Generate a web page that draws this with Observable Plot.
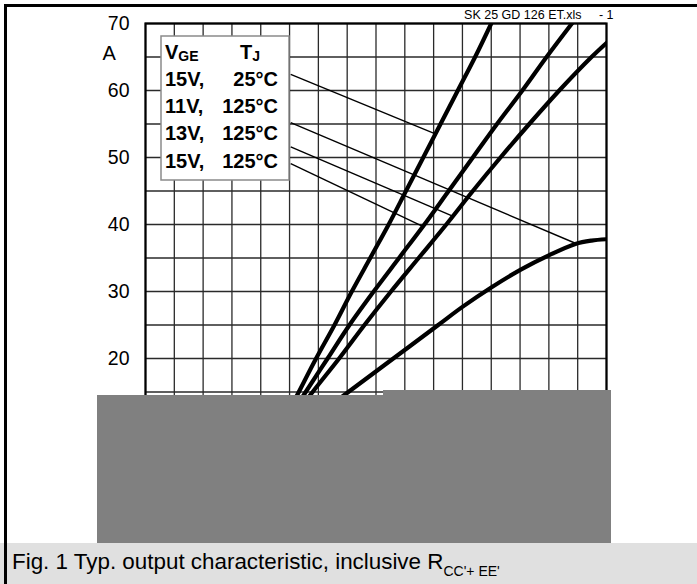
<!DOCTYPE html>
<html>
<head>
<meta charset="utf-8">
<script src="https://cdn.jsdelivr.net/npm/d3@7"></script>
<script src="https://cdn.jsdelivr.net/npm/@observablehq/plot@0.6"></script>
<style>
  body { margin: 0; background: #fff; font-family: "Liberation Sans", Arial, sans-serif; }
  #wrap { position: relative; width: 697px; height: 584px; overflow: hidden; background: #fff; }
  #chart { position: absolute; left: 0; top: 0; }
  #caption { position: absolute; left: 0; top: 543px; width: 697px; height: 41px; background: #e0e0e0;
             font-size: 22.4px; line-height: 22px; color: #000; box-sizing: border-box; padding: 8px 0 0 12px; white-space: nowrap; }
  #caption sub { font-size: 14px; vertical-align: -7px; line-height: 0; }
  .mask { position: absolute; background: #808080; }
  #border { position: absolute; left: 4px; top: 4px; width: 693px; height: 580px; box-sizing: border-box;
            border-top: 3px solid #000; border-left: 3px solid #000; pointer-events: none; }
</style>
</head>
<body>
<div id="wrap">
  <div id="chart"></div>
  <div class="mask" style="left:97px;top:395px;width:514px;height:148px;"></div>
  <div class="mask" style="left:383px;top:390px;width:228px;height:6px;"></div>
  <div id="caption">Fig. 1 Typ. output characteristic, inclusive R<sub>CC'+ EE'</sub></div>
  <div id="border"></div>
</div>
<script>
// ---- axis / grid definitions ----
const xGrid = d3.range(0, 4.0001, 0.25);   // V_CE grid every 0.25 V
const yGrid = d3.range(0, 70.001, 5);      // I_C grid every 5 A
const yTicks = [0, 10, 20, 30, 40, 50, 60, 70];

// ---- series (V_CE in V, I_C in A) ----
const series = ["15V, 25°C", "15V, 125°C", "13V, 125°C", "11V, 125°C"];

const ic_15V_25C  = [12, 15, 20, 25, 30, 35, 40, 45, 50, 55, 60, 65, 70];
const vce_15V_25C = [1.24, 1.33, 1.48, 1.64, 1.79, 1.95, 2.11, 2.26, 2.41, 2.56, 2.71, 2.86, 3.00];

const ic_15V_125C  = [12, 15, 20, 25, 30, 35, 40, 45, 50, 55, 60, 65, 70];
const vce_15V_125C = [1.28, 1.39, 1.58, 1.77, 1.98, 2.20, 2.42, 2.63, 2.84, 3.05, 3.27, 3.48, 3.70];

const ic_13V_125C  = [12, 15, 20, 25, 30, 35, 40, 45, 50, 55, 60, 65, 67.1];
const vce_13V_125C = [1.32, 1.45, 1.68, 1.90, 2.13, 2.37, 2.61, 2.84, 3.08, 3.33, 3.59, 3.87, 4.00];

const ic_11V_125C  = [12, 15, 20, 25, 27.7, 30.6, 33.3, 35.4, 37.1, 37.6, 37.8];
const vce_11V_125C = [1.53, 1.76, 2.15, 2.54, 2.75, 3.00, 3.26, 3.50, 3.73, 3.87, 4.00];

// ---- legend text and leader lines ----
const legendLeft  = ["15V,", "11V,", "13V,", "15V,"];
const legendRight = ["25°C", "125°C", "125°C", "125°C"];
const leaderSeries = ["15V, 25°C", "11V, 125°C", "13V, 125°C", "15V, 125°C"];
const leaderStartV = 1.26;
const leaderStartA = [62.4, 55.2, 51.6, 49.1];
const leaderEndV   = [2.52, 3.73, 2.67, 2.41];
const leaderEndA   = [53.5, 37.2, 41.2, 39.7];

const fileLabel = "SK 25 GD 126 ET.xls";
const pageLabel = "- 1";
const unitLabel = "A";

// ---- build tables ----
const allI = [ic_15V_25C, ic_15V_125C, ic_13V_125C, ic_11V_125C];
const allV = [vce_15V_25C, vce_15V_125C, vce_13V_125C, vce_11V_125C];
const curves = series.flatMap((s, i) => allV[i].map((v, j) => ({s, v, a: allI[i][j]})));
const leaders = leaderSeries.map((s, i) => ({s, x1: leaderStartV, y1: leaderStartA[i], x2: leaderEndV[i], y2: leaderEndA[i]}));

const chart = Plot.plot({
  width: 697,
  height: 543,
  marginLeft: 145,
  marginRight: 91,
  marginTop: 23,
  marginBottom: 51,
  style: {fontFamily: "'Liberation Sans', Arial, sans-serif", fontSize: "19.5px", background: "white", color: "black", overflow: "visible"},
  x: {domain: [0, 4], axis: null},
  y: {domain: [0, 70], axis: null},
  marks: [
    Plot.ruleX(xGrid, {stroke: "#2a2a2a", strokeWidth: 1.3}),
    Plot.ruleY(yGrid, {stroke: "#2a2a2a", strokeWidth: 1.3}),
    Plot.frame({stroke: "black", strokeWidth: 2.2}),
    Plot.axisY(yTicks, {tickSize: 0, tickPadding: 16, label: null, fontSize: 19.5}),
    Plot.line(curves, {x: "v", y: "a", z: "s", stroke: "black", strokeWidth: 4.2, curve: "catmull-rom", clip: true}),
    Plot.link(leaders, {x1: "x1", y1: "y1", x2: "x2", y2: "y2", stroke: "black", strokeWidth: 1.4}),
    Plot.text([unitLabel], {frameAnchor: "top-left", dx: -43, dy: 22, textAnchor: "start", fontSize: 20}),
    Plot.text([fileLabel], {frameAnchor: "top-right", dx: -25, dy: -13, textAnchor: "end", fontSize: 12.5}),
    Plot.text([pageLabel], {frameAnchor: "top-right", dx: 7, dy: -13, textAnchor: "end", fontSize: 12.5})
  ]
});
document.getElementById("chart").appendChild(chart);

// ---- legend box (annotation drawn into the same SVG) ----
const svg = d3.select(chart);
const g = svg.append("g")
  .attr("font-family", "'Liberation Sans', Arial, sans-serif")
  .attr("font-weight", "bold")
  .attr("fill", "black")
  .attr("text-anchor", "start");
g.append("rect").attr("x", 161).attr("y", 36).attr("width", 128).attr("height", 144)
  .attr("fill", "white").attr("stroke", "#8a8a8a").attr("stroke-width", 1.5);
const h1 = g.append("text").attr("x", 165).attr("y", 59).attr("font-size", 20).attr("text-anchor", "start");
h1.append("tspan").text("V");
h1.append("tspan").attr("font-size", 14).attr("dy", 2).text("GE");
const h2 = g.append("text").attr("x", 240).attr("y", 59).attr("font-size", 20).attr("text-anchor", "start");
h2.append("tspan").text("T");
h2.append("tspan").attr("font-size", 14).attr("dy", 2).text("J");
legendLeft.forEach((t, i) => {
  const y = 85.5 + i * 27.4;
  g.append("text").attr("x", 165).attr("y", y).attr("font-size", 20).attr("text-anchor", "start").text(t);
  g.append("text").attr("x", 278).attr("y", y).attr("font-size", 20).attr("text-anchor", "end").text(legendRight[i]);
});
</script>
</body>
</html>
